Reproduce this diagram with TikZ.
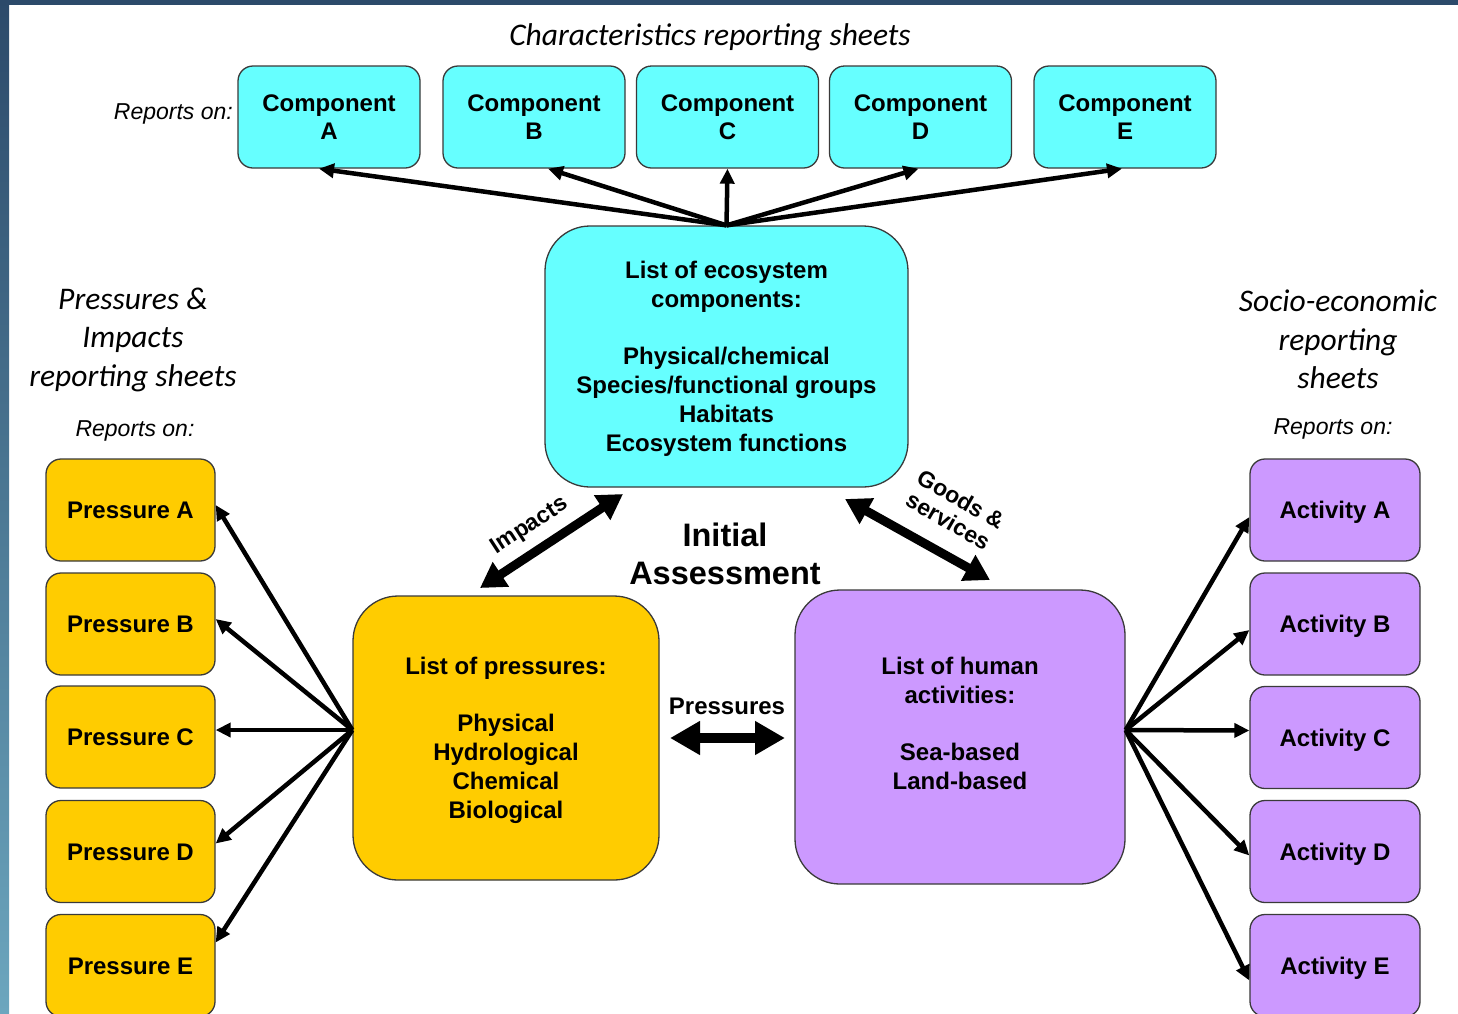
\documentclass[tikz,border=0pt]{standalone}
\usepackage{fontspec}
\setmainfont{Liberation Sans}
\newfontfamily\califont{Carlito}
\usetikzlibrary{arrows.meta}

\definecolor{cyanbox}{HTML}{66FFFF}
\definecolor{ambox}{HTML}{FFCC00}
\definecolor{lilbox}{HTML}{CC99FF}
\definecolor{edgegray}{HTML}{3A3A3A}
\definecolor{frametop}{HTML}{2C4A6A}
\definecolor{framebot}{HTML}{6CA6BE}

\begin{document}
\begin{tikzpicture}[x=1pt,y=-1pt,
  box/.style={draw=edgegray, line width=1.3pt, align=center, inner sep=0pt,
    font=\fontsize{24}{29}\selectfont\bfseries},
  comp/.style={box, fill=cyanbox, rounded corners=15pt, minimum width=182pt,
    minimum height=102pt, font=\fontsize{24}{28}\selectfont\bfseries},
  sheet/.style={box, rounded corners=15pt, minimum height=102pt, text height=17.2pt, text depth=0pt},
  press/.style={sheet, fill=ambox, minimum width=169pt},
  act/.style={sheet, fill=lilbox, minimum width=170pt},
  bigbox/.style={box, rounded corners=45pt},
  heading/.style={align=center, font=\califont\itshape\fontsize{31.5}{38.5}\selectfont, inner sep=0pt},
  reports/.style={font=\itshape\fontsize{23}{26}\selectfont, inner sep=0pt},
  fan/.style={line width=4.5pt, -{Triangle[length=15pt,width=14pt]}},
  bigarrow/.style={line width=9pt, {Triangle[length=25pt,width=28pt]}-{Triangle[length=25pt,width=28pt]}},
  arrowlabel/.style={font=\fontsize{23}{26}\selectfont\bfseries, align=center, inner sep=0pt}
]
\useasboundingbox (0,0) rectangle (1458,1013);
\clip (0,0) rectangle (1458,1013);

% page frame
\fill[white] (0,0) rectangle (1458,1013);
\fill[frametop] (0,0) rectangle (1458,5);
\shade[top color=frametop, bottom color=framebot] (0,0) rectangle (9,1013);

% headings
\node[heading] (hchar) at (710,37) {Characteristics reporting sheets};
\node[heading] (hpress) at (133,339.5) {Pressures \&\\Impacts\\reporting sheets};
\node[heading] (hsocio) at (1338,339.5) {Socio-economic\\reporting\\sheets};
\node[reports, anchor=east] (rtop) at (233,114) {Reports on:};
\node[reports] (rleft) at (135,431) {Reports on:};
\node[reports] (rright) at (1333,429) {Reports on:};

% component sheets
\node[comp] (compA) at (329,117) {Component\\A};
\node[comp] (compB) at (534,117) {Component\\B};
\node[comp] (compC) at (727.5,117) {Component\\C};
\node[comp] (compD) at (920.5,117) {Component\\D};
\node[comp] (compE) at (1125,117) {Component\\E};

% central lists
\node[bigbox, fill=cyanbox, minimum width=363pt, minimum height=261pt] (eco) at (726.5,356.5) {};
\node[box, draw=none] (ecotext) at (726.5,358.5)
  {List of ecosystem\\components:\\[28pt]Physical/chemical\\Species/functional groups\\Habitats\\Ecosystem functions};
\node[bigbox, fill=ambox, minimum width=306pt, minimum height=284pt] (plist) at (506,738) {};
\node[box, draw=none] (plisttext) at (506,740.5)
  {List of pressures:\\[28pt]Physical\\Hydrological\\Chemical\\Biological};
\node[bigbox, fill=lilbox, minimum width=330pt, minimum height=294pt] (hum) at (960,737) {};
\node[box, draw=none] (humtext) at (960,723.5)
  {List of human\\activities:\\[28pt]Sea-based\\Land-based};

% pressure sheets
\node[press] (pA) at (130.5,510) {Pressure A};
\node[press] (pB) at (130.5,624) {Pressure B};
\node[press] (pC) at (130.5,737) {Pressure C};
\node[press] (pD) at (130.5,851.5) {Pressure D};
\node[press] (pE) at (130.5,965.5) {Pressure E};

% activity sheets
\node[act] (aA) at (1335,510) {Activity A};
\node[act] (aB) at (1335,624) {Activity B};
\node[act] (aC) at (1335,737.5) {Activity C};
\node[act] (aD) at (1335,851.5) {Activity D};
\node[act] (aE) at (1335,965.5) {Activity E};

% centre title
\node[align=center, font=\fontsize{32.5}{38}\selectfont\bfseries, inner sep=0pt] (title) at (725,554) {Initial\\Assessment};

% fan to component sheets
\draw[fan] (eco.north) -- ([xshift=-10pt]compA.south);
\draw[fan] (eco.north) -- ([xshift=14pt]compB.south);
\draw[fan] (eco.north) -- (compC.south);
\draw[fan] (eco.north) -- ([xshift=-2pt]compD.south);
\draw[fan] (eco.north) -- ([xshift=-3pt]compE.south);

% fan to pressure sheets
\coordinate (pfan) at ([yshift=8pt]plist.west);
\draw[fan] (pfan) -- ([yshift=5pt]pA.east);
\draw[fan] (pfan) -- ([yshift=5pt]pB.east);
\draw[fan] (pfan) -- ([yshift=7pt]pC.east);
\draw[fan] (pfan) -- ([yshift=8pt]pD.east);
\draw[fan] (pfan) -- ([yshift=23pt]pE.east);

% fan to activity sheets
\coordinate (afan) at ([yshift=7pt]hum.east);
\draw[fan] (afan) -- ([yshift=-7pt]aA.west);
\draw[fan] (afan) -- ([yshift=-6pt]aB.west);
\draw[fan] (afan) -- ([yshift=7pt]aC.west);
\draw[fan] (afan) -- ([yshift=-4pt]aD.west);
\draw[fan] (afan) -- ([yshift=-15pt]aE.west);

% links between the three lists
\coordinate (impA) at (480,588);
\coordinate (impB) at (623,494);
\draw[bigarrow] (impA) -- (impB);
\node[arrowlabel, rotate=33] (implabel) at (530,526) {Impacts};

\coordinate (gsA) at (845,499);
\coordinate (gsB) at (990,580);
\draw[bigarrow] (gsA) -- (gsB);
\node[arrowlabel, rotate=-30, font=\fontsize{23}{25}\selectfont\bfseries] (gslabel) at (955,510) {Goods \&\\services};

\coordinate (prA) at (670,738);
\coordinate (prB) at (785,738);
\draw[line width=10pt, {Triangle[length=30pt,width=32pt]}-{Triangle[length=30pt,width=32pt]}] (prA) -- (prB);
\node[arrowlabel, font=\fontsize{24}{28}\selectfont\bfseries] (prlabel) at (727,706) {Pressures};
\end{tikzpicture}
\end{document}
